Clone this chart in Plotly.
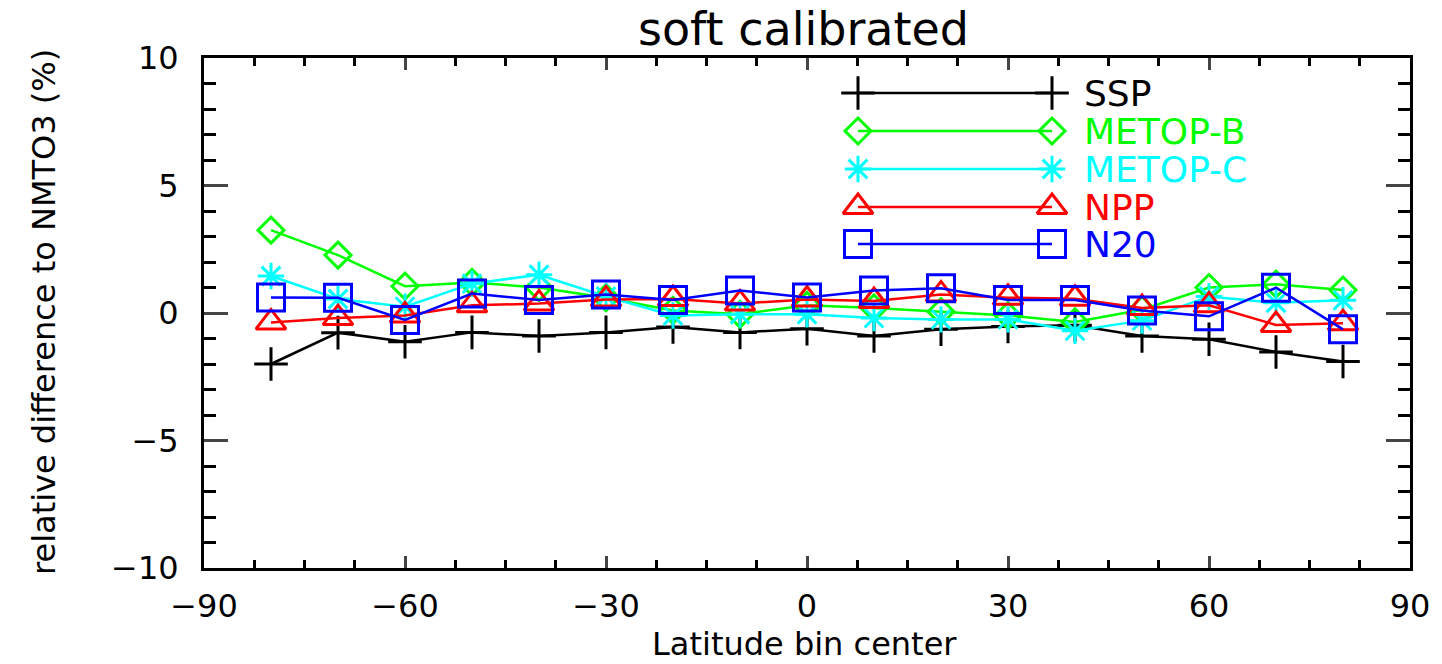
import plotly.graph_objects as go

# ---- data ----
lat = [-80, -70, -60, -50, -40, -30, -20, -10, 0, 10, 20, 30, 40, 50, 60, 70, 80]
ssp = [-2.0, -0.77, -1.13, -0.76, -0.9, -0.76, -0.55, -0.76, -0.62, -0.9, -0.64, -0.53, -0.48, -0.9, -1.03, -1.53, -1.9]
metop_b = [3.25, 2.27, 1.05, 1.2, 1.0, 0.6, 0.1, -0.05, 0.3, 0.2, 0.05, -0.1, -0.35, 0.13, 1.0, 1.13, 0.9]
metop_c = [1.45, 0.55, 0.25, 1.15, 1.5, 0.65, -0.1, -0.05, -0.05, -0.2, -0.25, -0.25, -0.7, -0.3, 0.65, 0.4, 0.5]
npp = [-0.37, -0.2, -0.1, 0.3, 0.37, 0.53, 0.55, 0.37, 0.53, 0.47, 0.73, 0.6, 0.56, 0.2, 0.3, -0.47, -0.4]
n20 = [0.61, 0.6, -0.27, 0.76, 0.51, 0.73, 0.51, 0.88, 0.61, 0.88, 0.97, 0.51, 0.51, 0.1, -0.13, 0.99, -0.64]

series_names = ["SSP", "METOP-B", "METOP-C", "NPP", "N20"]
series_values = [ssp, metop_b, metop_c, npp, n20]
series_colors = ["#000000", "#00ff00", "#00ffff", "#ff0000", "#0000ff"]
series_symbols = ["cross-thin-open", "diamond-open", "asterisk-open", "triangle-up-open", "square-open"]
series_sizes = [24, 20, 22, 26, 27]

x_ticks = [-90, -60, -30, 0, 30, 60, 90]
y_ticks = [-10, -5, 0, 5, 10]

FONT = "DejaVu Sans"

# plot area in pixels (layout)
L, R, T, B = 204, 1410, 58, 568
W, H = 1442, 664

fig = go.Figure()
for name, vals, col, sym, sz in zip(series_names, series_values, series_colors, series_symbols, series_sizes):
    fig.add_trace(go.Scatter(
        x=lat, y=vals, mode="lines+markers", name=name, showlegend=False,
        line=dict(color=col, width=2.5),
        marker=dict(symbol=sym, size=sz, color=col, line=dict(color=col, width=3)),
    ))

# manual IDL-style legend on an overlay pixel axis
leg_x = [858, 1052]
leg_rows = [93, 131, 169, 207, 244]
for name, col, sym, sz, ry in zip(series_names, series_colors, series_symbols, series_sizes, leg_rows):
    fig.add_trace(go.Scatter(
        x=leg_x, y=[ry, ry], mode="lines+markers", showlegend=False, hoverinfo="skip",
        xaxis="x2", yaxis="y2",
        line=dict(color=col, width=2.5),
        marker=dict(symbol=sym, size=sz, color=col, line=dict(color=col, width=3)),
    ))
    fig.add_annotation(x=1082, y=ry, xref="x2", yref="y2", text=name, showarrow=False,
                       xanchor="left", yanchor="middle",
                       font=dict(family=FONT, size=36, color=col))

axis_common = dict(showline=True, linewidth=3, linecolor="black", mirror="allticks",
                   showgrid=False, zeroline=False, ticks="inside",
                   tickfont=dict(family=FONT, size=32, color="black"))

fig.update_layout(
    width=W, height=H,
    margin=dict(l=L, r=W - R, t=T, b=H - B),
    paper_bgcolor="white", plot_bgcolor="white",
    showlegend=False,
    xaxis=dict(range=[-90, 90], tickvals=x_ticks, ticklen=12, tickwidth=3,
               minor=dict(dtick=7.5, tick0=-90, ticks="inside", ticklen=8, tickwidth=3, tickcolor="black"),
               ticklabelstandoff=8, **axis_common),
    yaxis=dict(range=[-10, 10], tickvals=y_ticks, ticklen=24, tickwidth=3,
               minor=dict(dtick=1, tick0=0, ticks="inside", ticklen=12, tickwidth=3, tickcolor="black"),
               ticklabelstandoff=16, **axis_common),
    xaxis2=dict(overlaying="x", range=[L, R], visible=False),
    yaxis2=dict(overlaying="y", range=[B, T], visible=False),
)

pw, ph = R - L, B - T
fig.add_annotation(x=(803 - L) / pw, y=(B - 29) / ph, xref="paper", yref="paper",
                   text="soft calibrated", showarrow=False, xanchor="center", yanchor="middle",
                   font=dict(family=FONT, size=46, color="black"))
fig.add_annotation(x=(804 - L) / pw, y=(B - 644) / ph, xref="paper", yref="paper",
                   text="Latitude bin center", showarrow=False, xanchor="center", yanchor="middle",
                   font=dict(family=FONT, size=32, color="black"))
fig.add_annotation(x=(44 - L) / pw, y=(B - 312) / ph, xref="paper", yref="paper",
                   text="relative difference to NMTO3 (%)", showarrow=False, textangle=-90,
                   xanchor="center", yanchor="middle",
                   font=dict(family=FONT, size=32, color="black"))

fig.write_html("out.html", config={"displayModeBar": False},
               post_script="document.body.style.margin='0';")
